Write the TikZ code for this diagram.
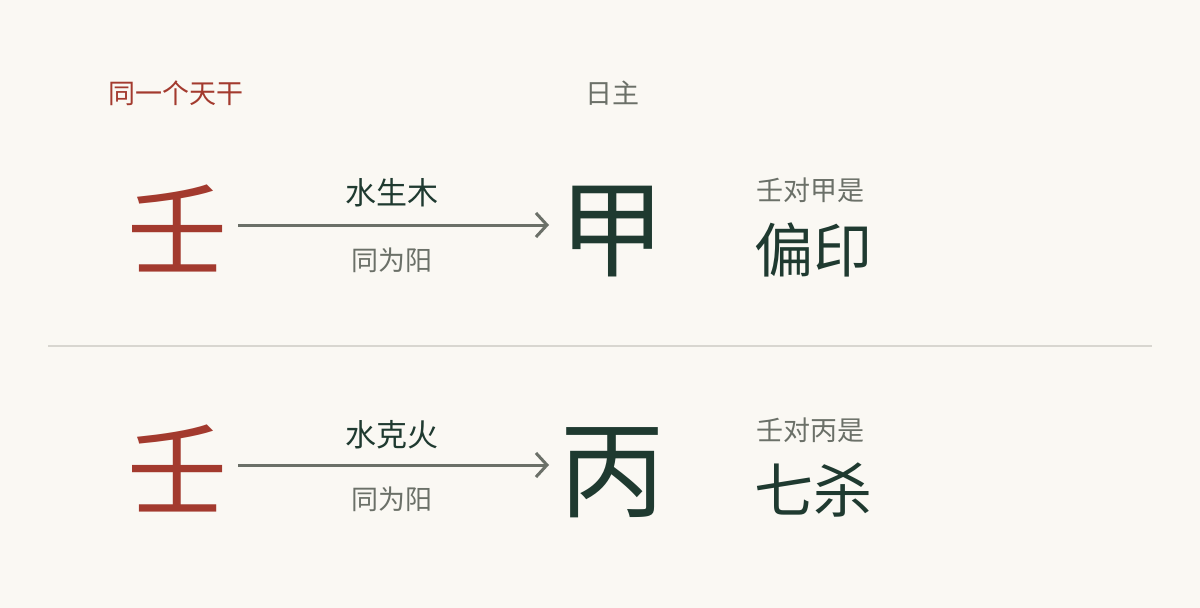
\documentclass[tikz,border=0pt]{standalone}
\usepackage{fontspec}
\setmainfont{Noto Sans CJK SC}
\newfontfamily\cjk{Noto Sans CJK SC}
\usetikzlibrary{arrows.meta}
\definecolor{bgc}{HTML}{FAF8F3}
\definecolor{redc}{HTML}{A33A2E}
\definecolor{greenc}{HTML}{1F3A30}
\definecolor{grayc}{HTML}{6B7068}
\definecolor{rulec}{HTML}{D8D6D0}
\tikzset{
  big/.style={font=\cjk\fontsize{100}{100}\selectfont, inner sep=0pt},
  bigred/.style={big, text=redc},
  biggreen/.style={big, text=greenc, font=\cjk\fontsize{106}{106}\selectfont},
  caption/.style={font=\cjk\fontsize{27}{27}\selectfont, inner sep=0pt},
  relation/.style={font=\cjk\fontsize{31}{31}\selectfont, inner sep=0pt, text=greenc},
  result/.style={font=\cjk\fontsize{59}{59}\selectfont, inner sep=0pt, text=greenc, anchor=west},
  conn/.style={draw=grayc, line width=3pt, -{Straight Barb[length=11pt,width=24pt,line width=3pt]}}
}
\begin{document}
\begin{tikzpicture}[x=1pt,y=-1pt]
\fill[bgc] (0,0) rectangle (1200,608);
\useasboundingbox (0,0) rectangle (1200,608);
% headers
\node[caption, text=redc] (h1) at (176,93) {同一个天干};
\node[caption, text=grayc] (h2) at (612,93) {日主};
% row 1
\node[bigred] (a1) at (177,228) {壬};
\node[biggreen] (b1) at (612,232) {甲};
\draw[conn] (238,225) coordinate (s1) -- (549,225) coordinate (e1);
\node[relation] (r1) at (392,193) {水生木};
\node[caption, text=grayc] (y1) at (392,260) {同为阳};
\node[caption, text=grayc, anchor=west] (q1) at (756,190) {壬对甲是};
\node[result] (p1) at (754,250) {偏印};
% separator
\draw[rulec, line width=1.5pt] (48,346) coordinate (l1) -- (1152,346) coordinate (l2);
% row 2
\node[bigred] (a2) at (177,468) {壬};
\node[biggreen] (b2) at (612,473) {丙};
\draw[conn] (238,465) coordinate (s2) -- (549,465) coordinate (e2);
\node[relation] (r2) at (392,435) {水克火};
\node[caption, text=grayc] (y2) at (392,499) {同为阳};
\node[caption, text=grayc, anchor=west] (q2) at (756,430) {壬对丙是};
\node[result] (p2) at (754,490) {七杀};
\end{tikzpicture}
\end{document}
